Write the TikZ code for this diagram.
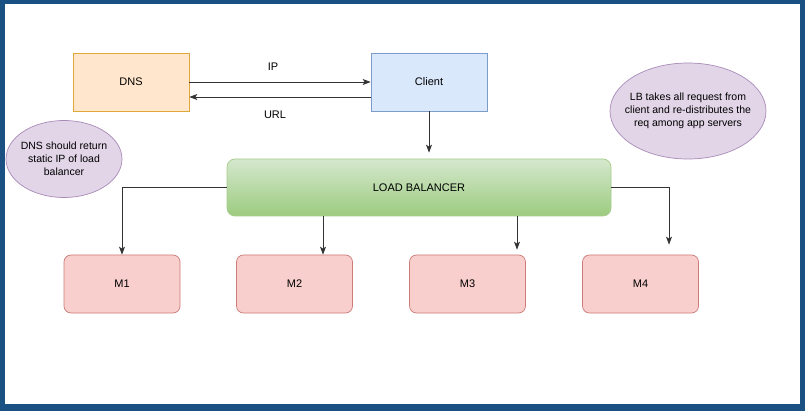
\documentclass[tikz,border=0pt]{standalone}
\usepackage{fontspec}
\setmainfont{Liberation Sans}
\usetikzlibrary{arrows.meta,shapes.geometric,calc}
\definecolor{frameblue}{HTML}{1B5083}
\definecolor{dnsfill}{HTML}{FFE6CC}
\definecolor{dnsdraw}{HTML}{E0A83A}
\definecolor{clfill}{HTML}{DAE8FC}
\definecolor{cldraw}{HTML}{7C9CCB}
\definecolor{lbtop}{HTML}{D5E8CD}
\definecolor{lbbot}{HTML}{9CCB80}
\definecolor{lbdraw}{HTML}{A6CC8C}
\definecolor{mfill}{HTML}{F8CFCC}
\definecolor{mdraw}{HTML}{CC7B77}
\definecolor{notefill}{HTML}{E1D5E7}
\definecolor{notedraw}{HTML}{A98BB8}
\definecolor{linegray}{HTML}{333333}
\tikzset{
  box/.style={draw, line width=0.7pt, minimum width=116pt, minimum height=58pt, font=\fontsize{11}{13}\selectfont},
  dnsbox/.style={box, fill=dnsfill, draw=dnsdraw},
  clbox/.style={box, fill=clfill, draw=cldraw},
  mbox/.style={box, fill=mfill, draw=mdraw, rounded corners=7pt},
  lbbox/.style={draw=lbdraw, line width=0.7pt, top color=lbtop, bottom color=lbbot, rounded corners=8pt, minimum width=384pt, minimum height=57pt, font=\fontsize{11}{13}\selectfont},
  note/.style={ellipse, draw=notedraw, fill=notefill, line width=0.7pt, inner sep=-16pt, align=center, font=\fontsize{10.5}{13}\selectfont},
  arr/.style={draw=linegray, line width=0.8pt, -{Stealth[length=8pt,width=6pt,inset=2pt]}},
  lbl/.style={font=\fontsize{11}{13}\selectfont}
}
\begin{document}
\begin{tikzpicture}[x=1pt,y=-1pt]
\useasboundingbox (0,0) rectangle (805,411);
\fill[frameblue] (0,0) rectangle (805,411);
\fill[white] (5,4) rectangle (800,404);
\node[dnsbox] (dns) at (131,82) {DNS};
\node[clbox] (client) at (429,82) {Client};
\node[lbbox] (lb) at (419,187.5) {LOAD BALANCER};
\node[mbox] (m1) at (122,284) {M1};
\node[mbox] (m2) at (294.5,284) {M2};
\node[mbox] (m3) at (467.5,284) {M3};
\node[mbox] (m4) at (640.5,284) {M4};
\node[note, minimum width=116pt, minimum height=77pt] (n1) at (64,159) {DNS should return\\static IP of load\\balancer};
\node[note, minimum width=156pt, minimum height=96pt] (n2) at (688,111) {LB takes all request from\\client and re-distributes the\\req among app servers};
\node[lbl] (ip) at (273,67) {IP};
\node[lbl] (url) at (275,115) {URL};
\draw[arr] (dns.east) -- (client.west);
\draw[arr] ([yshift=-15pt]client.west) -- ([yshift=-15pt]dns.east);
\draw[arr, shorten >=6pt] (client.south) -- (client.south |- lb.north);
\draw[arr] (lb.west) -| (m1.north);
\coordinate (c2) at ([xshift=28.5pt]m2.north);
\draw[arr] (c2 |- lb.south) -- (c2);
\coordinate (c3) at ([xshift=49.5pt]m3.north);
\draw[arr, shorten >=5pt] (c3 |- lb.south) -- (c3);
\coordinate (c4) at ([xshift=28.5pt]m4.north);
\draw[arr, shorten >=10pt] (lb.east) -| (c4);
\end{tikzpicture}
\end{document}
